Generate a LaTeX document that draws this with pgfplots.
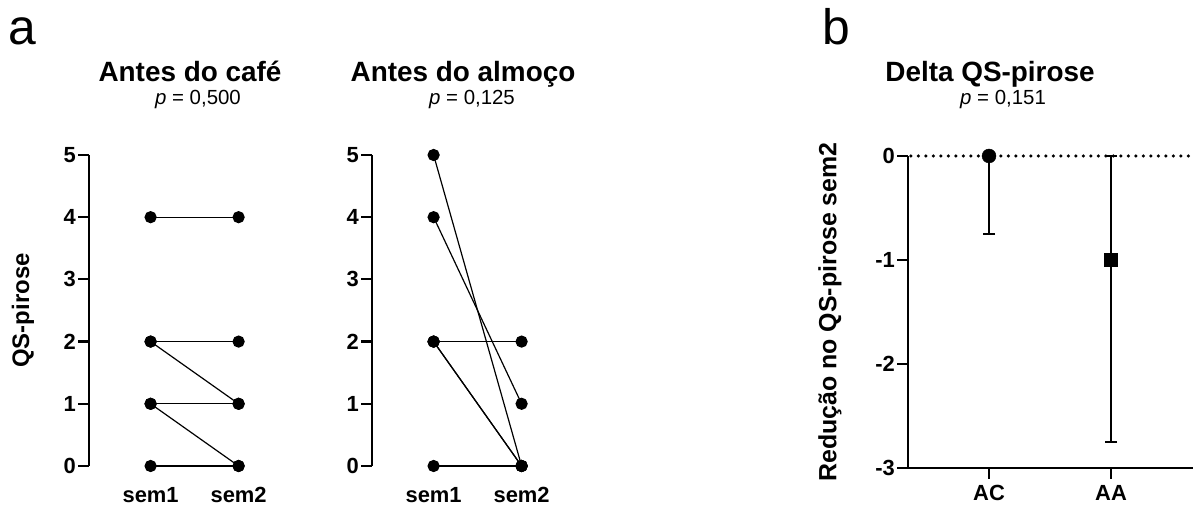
\documentclass[border=0pt]{standalone}
\usepackage{pgfplots}
\pgfplotsset{compat=1.18}
\usepackage{fontspec}
\setmainfont{Liberation Sans}

\newcommand{\fs}[1]{\fontsize{#1}{#1}\selectfont}

\pgfplotsset{
  pair/.style={black, line width=1.2bp, mark=*, mark size=5.5bp, mark options={solid}},
  basestyle/.style={
    anchor=south west, scale only axis, clip=false,
    tick align=outside, major tick length=11bp,
    axis y line*=left, axis x line*=bottom,
    tick label style={font=\bfseries\fs{22}},
    /pgf/number format/assume math mode=true,
    yticklabel style={inner sep=2bp},
    ytick style={line width=2.2bp, black},
    y axis line style={line width=2.2bp},
  },
  panela/.style={
    basestyle,
    width=176bp, height=311bp,
    xmin=0.3, xmax=2.3, ymin=0, ymax=5,
    ytick={0,1,2,3,4,5},
    xtick={1,2}, xticklabels={sem1,sem2},
    x axis line style={draw=none},
    xtick style={draw=none},
    xticklabel style={yshift=-9bp, inner sep=1bp},
  },
  ebar/.style={
    error bars/.cd, y dir=both, y explicit,
    error bar style={line width=1.2bp, black},
    error mark options={rotate=90, black, mark size=6bp, line width=1.2bp},
  },
}

\begin{document}
\begin{tikzpicture}[x=1bp, y=1bp]
\path[use as bounding box] (0,0) rectangle (1195,509);

% panel letters
\node[anchor=base west, font=\fs{50}, inner sep=0pt] at (8,464) {a};
\node[anchor=base west, font=\fs{50}, inner sep=0pt] at (822,464) {b};

% titles
\node[anchor=base, font=\bfseries\fs{28}] at (190,427) {Antes do café};
\node[anchor=base, font=\fs{20.5}] at (198,404) {\textit{p} = 0,500};
\node[anchor=base, font=\bfseries\fs{28}] at (463,427) {Antes do almoço};
\node[anchor=base, font=\fs{20.5}] at (472,404) {\textit{p} = 0,125};
\node[anchor=base, font=\bfseries\fs{28}] at (990,427) {Delta QS-pirose};
\node[anchor=base, font=\fs{20.5}] at (1003,404) {\textit{p} = 0,151};

% a: antes do cafe
\begin{axis}[panela, at={(89bp,43bp)},
  ylabel={QS-pirose},
  ylabel style={font=\bfseries\fs{24}, at={(-66bp,155.5bp)}, anchor=center},
]
\addplot[pair] coordinates {(1,4) (2,4)};
\addplot[pair] coordinates {(1,2) (2,2)};
\addplot[pair] coordinates {(1,2) (2,1)};
\addplot[pair] coordinates {(1,1) (2,1)};
\addplot[pair] coordinates {(1,1) (2,0)};
\addplot[pair] coordinates {(1,0) (2,0)};
\end{axis}

% a: antes do almoco
\begin{axis}[panela, at={(372bp,43bp)}]
\addplot[pair] coordinates {(1,5) (2,0)};
\addplot[pair] coordinates {(1,4) (2,1)};
\addplot[pair] coordinates {(1,2) (2,2)};
\addplot[pair] coordinates {(1,2) (2,0)};
\addplot[pair] coordinates {(1,2) (2,0)};
\addplot[pair] coordinates {(1,0) (2,0)};
\end{axis}

% b: delta
\begin{axis}[basestyle, at={(908bp,41bp)},
  width=285bp, height=312bp,
  xmin=0.336, xmax=2.672, ymin=-3, ymax=0,
  ytick={-3,-2,-1,0},
  xtick={1,2}, xticklabels={AC,AA},
  xticklabel style={yshift=-3bp},
  x axis line style={line width=2.2bp},
  xtick style={line width=2.2bp, black},
  ylabel={Redução no QS-pirose sem2},
  ylabel style={font=\bfseries\fs{25}, at={(-78bp,156bp)}, anchor=center},
]
\addplot[black, line width=3.5bp, line cap=round, dash pattern=on 0bp off 7.5bp]
  coordinates {(0.36,0) (2.672,0)};
\addplot[black, only marks, mark=*, mark size=7bp, ebar]
  coordinates {(1,0) += (0,0) -= (0,0.75)};
\addplot[black, only marks, mark=square*, mark size=6.5bp, ebar]
  coordinates {(2,-1) += (0,1) -= (0,1.75)};
\end{axis}
\end{tikzpicture}
\end{document}
